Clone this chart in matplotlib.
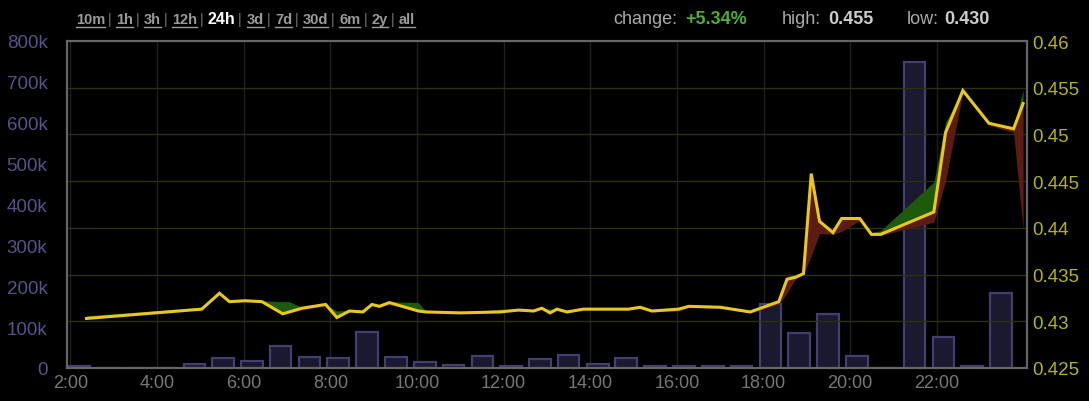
import matplotlib
matplotlib.use("Agg")
import matplotlib.pyplot as plt
from matplotlib.lines import Line2D

plt.rcParams['font.family'] = ['Liberation Sans', 'DejaVu Sans']

# ---------------- data ----------------
bar_hours = [2.20, 2.86, 3.53, 4.19, 4.86, 5.52, 6.19, 6.85, 7.52, 8.18, 8.85,
             9.51, 10.18, 10.84, 11.51, 12.17, 12.84, 13.50, 14.17, 14.83, 15.50,
             16.16, 16.83, 17.49, 18.16, 18.82, 19.49, 20.15, 20.82, 21.48, 22.15,
             22.81, 23.48]
volumes = [5000, 0, 0, 0, 10000, 24000, 18000, 55000, 26000, 24000, 87000,
           28000, 14000, 7000, 29000, 4000, 21000, 33000, 9000, 24000, 4000,
           6000, 6000, 4000, 156000, 86000, 133000, 30000, 1000, 749000, 77000,
           4000, 183000]

price_hours = [2.37, 5.03, 5.44, 5.67, 6.03, 6.42, 6.90, 7.05, 7.34, 7.89, 8.15,
               8.44, 8.75, 8.96, 9.13, 9.36, 10.03, 10.20, 11.00, 11.92, 12.34,
               12.69, 12.88, 13.07, 13.23, 13.46, 13.84, 14.88, 15.15, 15.42,
               16.04, 16.27, 17.00, 17.69, 18.35, 18.54, 18.73, 18.92, 19.10,
               19.29, 19.60, 19.80, 20.22, 20.49, 20.70, 21.93, 22.20, 22.60,
               23.20, 23.77, 23.99]
price = [0.4303, 0.4313, 0.4330, 0.4321, 0.4322, 0.4321, 0.4308, 0.4310, 0.4314,
         0.4318, 0.4304, 0.4311, 0.4310, 0.4318, 0.4316, 0.4320, 0.4311, 0.4310,
         0.4309, 0.4310, 0.4312, 0.4311, 0.4314, 0.4309, 0.4313, 0.4310, 0.4313,
         0.4313, 0.4315, 0.4311, 0.4313, 0.4316, 0.4315, 0.4310, 0.4321, 0.4345,
         0.4347, 0.4351, 0.4458, 0.4407, 0.4395, 0.4410, 0.4410, 0.4393, 0.4393,
         0.4417, 0.4502, 0.4547, 0.4512, 0.4506, 0.4533]
upper = [0.4306, 0.4315, 0.4330, 0.4321, 0.4322, 0.4322, 0.4321, 0.4321, 0.4315,
         0.4318, 0.4311, 0.4312, 0.4311, 0.4319, 0.4318, 0.4321, 0.4320, 0.4311,
         0.4309, 0.4313, 0.4313, 0.4312, 0.4314, 0.4313, 0.4313, 0.4311, 0.4313,
         0.4313, 0.4315, 0.4311, 0.4313, 0.4316, 0.4315, 0.4310, 0.4322, 0.4348,
         0.4350, 0.4351, 0.4458, 0.4407, 0.4395, 0.4410, 0.4410, 0.4395, 0.4397,
         0.4449, 0.4513, 0.4547, 0.4513, 0.4508, 0.4548]
lower = [0.4303, 0.4313, 0.4330, 0.4320, 0.4321, 0.4320, 0.4308, 0.4309, 0.4312,
         0.4317, 0.4304, 0.4311, 0.4310, 0.4317, 0.4315, 0.4318, 0.4311, 0.4310,
         0.4309, 0.4310, 0.4312, 0.4310, 0.4313, 0.4309, 0.4312, 0.4309, 0.4312,
         0.4312, 0.4314, 0.4310, 0.4311, 0.4315, 0.4314, 0.4309, 0.4318, 0.4330,
         0.4345, 0.4350, 0.4370, 0.4394, 0.4393, 0.4396, 0.4408, 0.4392, 0.4392,
         0.4406, 0.4450, 0.4545, 0.4510, 0.4502, 0.4398]

x_ticks = [2, 4, 6, 8, 10, 12, 14, 16, 18, 20, 22]
x_labels = ["2:00", "4:00", "6:00", "8:00", "10:00", "12:00", "14:00",
            "16:00", "18:00", "20:00", "22:00"]
vol_ticks = [0, 100000, 200000, 300000, 400000, 500000, 600000, 700000, 800000]
vol_labels = ["0", "100k", "200k", "300k", "400k", "500k", "600k", "700k", "800k"]
price_ticks = [0.425, 0.43, 0.435, 0.44, 0.445, 0.45, 0.455, 0.46]
price_labels = ["0.425", "0.43", "0.435", "0.44", "0.445", "0.45", "0.455", "0.46"]

tabs = ["10m", "1h", "3h", "12h", "24h", "3d", "7d", "30d", "6m", "2y", "all"]
active_tab = "24h"
change_text = "+5.34%"
high_text = "0.455"
low_text = "0.430"

# ---------------- figure ----------------
W, H = 1089, 402
fig = plt.figure(figsize=(W / 100, H / 100), dpi=100, facecolor="black")

ax_vol = fig.add_axes([67 / W, 33 / H, 960 / W, 327 / H])
ax = ax_vol.twinx()
ax_vol.set_zorder(0)
ax.set_zorder(1)
ax.patch.set_visible(False)
ax_vol.set_facecolor("black")

# volume bars
ax_vol.bar(bar_hours, volumes, width=0.5, color="#1a1930", edgecolor="#433f70",
           linewidth=1.6, zorder=2)
ax_vol.set_ylim(0, 800000)
ax_vol.set_yticks(vol_ticks)
ax_vol.set_yticklabels(vol_labels)
ax_vol.yaxis.tick_left()
ax_vol.tick_params(axis="y", colors="#55538a", labelsize=13.5, length=0, pad=14)
ax_vol.set_xlim(1.92, 24.08)
ax_vol.set_xticks(x_ticks)
ax_vol.set_xticklabels(x_labels)
ax_vol.tick_params(axis="x", colors="#777777", labelsize=13, length=0, pad=4)
ax_vol.grid(axis="x", color="#202020", linewidth=1)
ax_vol.set_axisbelow(True)

# price
ax.set_ylim(0.425, 0.46)
ax.set_yticks(price_ticks)
ax.set_yticklabels(price_labels)
ax.yaxis.tick_right()
ax.tick_params(axis="y", colors="#b3b31a", labelsize=13.5, length=0, pad=4)
ax.grid(axis="y", color="#2b300f", linewidth=1)
ax.fill_between(price_hours, price, upper, where=[u >= p for u, p in zip(upper, price)],
                interpolate=True, color="#1d5a0c", linewidth=0, zorder=2)
ax.fill_between(price_hours, lower, price, where=[l <= p for l, p in zip(lower, price)],
                interpolate=True, color="#5a1c14", linewidth=0, zorder=2)
ax.plot(price_hours, price, color="#e9c81b", linewidth=2.2, zorder=3,
        solid_joinstyle="miter")

for a in (ax, ax_vol):
    for s in a.spines.values():
        s.set_color("#666666")
        s.set_linewidth(1.5)

# ---------------- header ----------------
def px(x, y):
    return x / W, 1 - y / H

tab_x = [76, 116, 144, 172, 208, 247, 275, 303, 339, 372, 399]
fig.canvas.draw()
renderer = fig.canvas.get_renderer()
for i, (t, x) in enumerate(zip(tabs, tab_x)):
    if t == active_tab:
        fig.text(*px(x, 20), t, color="white", fontsize=11.5, fontweight="bold",
                 va="center", ha="left")
    else:
        txt = fig.text(*px(x, 20), t, color="#9a9a9a", fontsize=10.5,
                       fontweight="bold", va="center", ha="left")
        bb = txt.get_window_extent(renderer)
        fig.add_artist(Line2D([bb.x0 / W, bb.x1 / W], [(bb.y0 - 1) / H] * 2,
                              color="#9a9a9a", linewidth=1,
                              transform=fig.transFigure))
    if i < len(tabs) - 1:
        fig.text(*px(tab_x[i + 1] - 6 if t != active_tab else tab_x[i + 1] - 7, 20),
                 "|", color="#777777", fontsize=10, va="center", ha="center")

fig.text(*px(613, 20), "change:", color="#aaaaaa", fontsize=13, va="center")
fig.text(*px(685, 20), change_text, color="#4caf34", fontsize=13,
         fontweight="bold", va="center")
fig.text(*px(782, 20), "high:", color="#aaaaaa", fontsize=13, va="center")
fig.text(*px(828, 20), high_text, color="#cccccc", fontsize=13,
         fontweight="bold", va="center")
fig.text(*px(907, 20), "low:", color="#aaaaaa", fontsize=13, va="center")
fig.text(*px(944, 20), low_text, color="#cccccc", fontsize=13,
         fontweight="bold", va="center")

fig.savefig("out.png", dpi=100, facecolor="black")
